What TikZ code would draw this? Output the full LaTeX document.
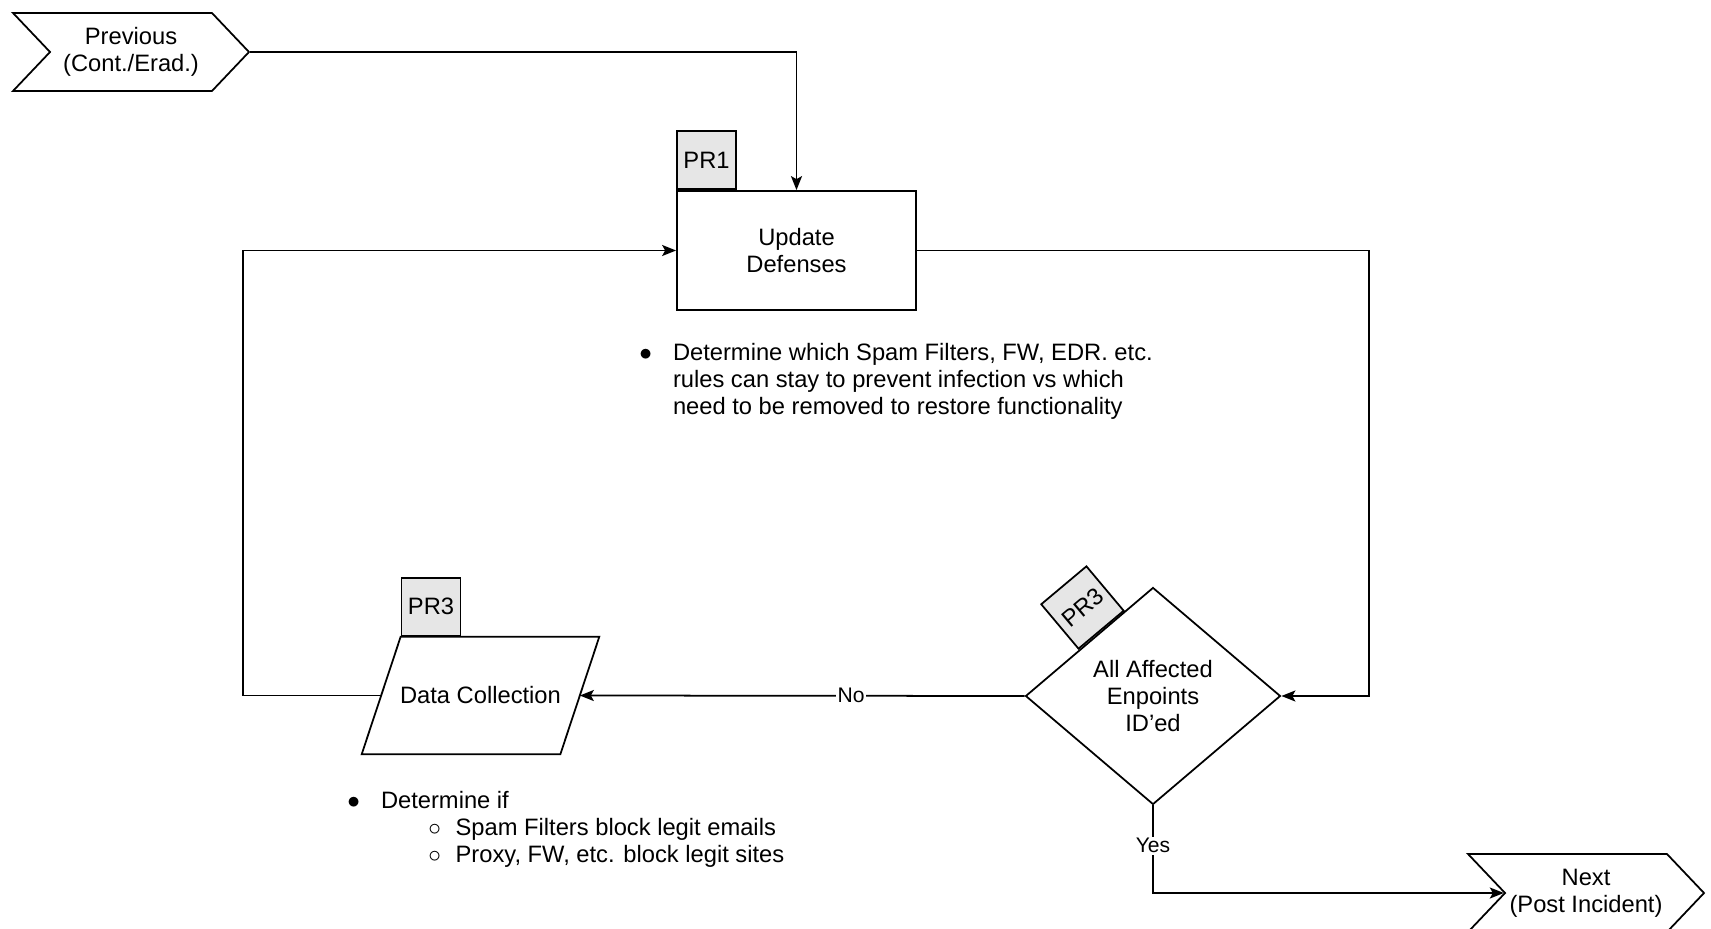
\documentclass[tikz,border=0pt]{standalone}
\usepackage{fontspec}
\setmainfont{Liberation Sans}
\usetikzlibrary{arrows.meta, shapes.geometric, shapes.symbols, calc}
\definecolor{tagfill}{RGB}{230,230,230}

\begin{document}
\begin{tikzpicture}[x=0.02cm, y=-0.02cm,
  every node/.style={font=\fontsize{13.5}{15.5}\selectfont},
  line/.style={line width=1pt, black},
  arr/.style={line, -{Stealth[length=0.28cm, width=0.22cm, inset=0.06cm]}},
  stepbox/.style={draw, line width=1pt, minimum width=4.78cm, minimum height=2.38cm, align=center},
  choice/.style={draw, diamond, line width=1pt, minimum width=5.1cm, minimum height=4.34cm, aspect=1.175, align=center, inner sep=0pt},
  datain/.style={minimum width=3.96cm, minimum height=2.34cm, inner sep=0pt},
  tag/.style={draw, fill=tagfill, line width=1pt, minimum width=1.18cm, minimum height=1.16cm, inner sep=0pt},
  pageref/.style={draw, signal, signal from=west, signal to=east, signal pointer angle=93, line width=1pt, minimum width=4.72cm, minimum height=1.56cm, align=center, inner sep=0pt},
  lbl/.style={fill=white, inner sep=1pt, font=\fontsize{12}{14}\selectfont}]
\useasboundingbox (0,0) rectangle (1711,929);
\clip (0,0) rectangle (1711,929);

\node[pageref] (prev) at (131,52) {Previous\\(Cont./Erad.)};
\node[pageref] (next) at (1586,893) {Next\\(Post Incident)};

\node[stepbox] (upd) at (796.5,250.5) {Update\\Defenses};
\node[tag, anchor=south west] (pr1) at (upd.north west) {PR1};

\node[choice] (dec) at (1153,696) {All Affected\\Enpoints\\ID'ed};
\node[tag, rotate=40, anchor=south] (pr3b) at ($(dec.west)!0.6!(dec.north)$) {PR3};

% parallelogram round the data step
\node[datain] (coll) at (480.5,695.5) {Data Collection};
\coordinate (ctl) at ($(coll.north west)+(19.5,0)$);
\draw[line] (ctl) -- ($(coll.north east)+(19.5,0)$) -- ($(coll.south east)+(-19.5,0)$)
  -- ($(coll.south west)+(-19.5,0)$) -- cycle;
\node[tag, anchor=south west] (pr3a) at (ctl) {PR3};

% notes under the steps
\node[anchor=base west, inner sep=0pt] (note1) at (639,360)
  {\begin{tabular}[t]{@{}c@{\hspace{0.42cm}}l@{}}
   $\bullet$ & Determine which Spam Filters, FW, EDR. etc.\\
   & rules can stay to prevent infection vs which\\
   & need to be removed to restore functionality
   \end{tabular}};
\node[anchor=base west, inner sep=0pt] (note2) at (347,808)
  {\begin{tabular}[t]{@{}c@{\hspace{0.42cm}}l@{}}
   $\bullet$ & Determine if\\
   & \hspace{0.95cm}$\circ$\hspace{0.29cm}Spam Filters block legit emails\\
   & \hspace{0.95cm}$\circ$\hspace{0.29cm}Proxy, FW, etc. block legit sites
   \end{tabular}};

\coordinate (rt) at (1369,470);
\coordinate (lt) at (243,470);

\draw[arr] (prev.east) -| (upd.north);
\draw[arr] (upd.east) -| (rt) |- (dec.east);
\draw[arr] (dec.west) -- node[lbl, pos=0.39] {No} (coll.east);
\draw[arr] (coll.west) -| (lt) |- (upd.west);
\draw[arr] (dec.south) |- node[lbl, pos=0.23] {Yes} (next.west);
\end{tikzpicture}
\end{document}
